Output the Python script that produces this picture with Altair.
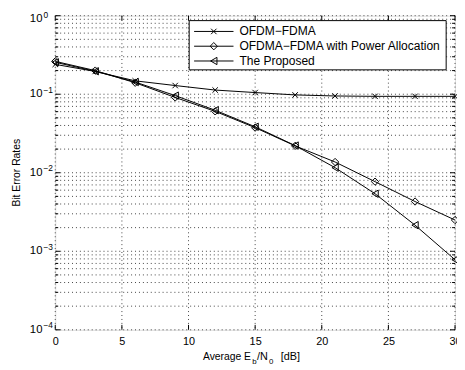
import altair as alt
import pandas as pd

# ---------------- data ----------------
snr_db = [0, 3, 6, 9, 12, 15, 18, 21, 24, 27, 30]
series_names = ["OFDM−FDMA", "OFDMA−FDMA with Power Allocation", "The Proposed"]
ber_ofdm_fdma = [0.24, 0.195, 0.148, 0.129, 0.113, 0.105, 0.098, 0.095, 0.094, 0.094, 0.094]
ber_power_alloc = [0.262, 0.200, 0.140, 0.091, 0.0605, 0.0375, 0.022, 0.0137, 0.0077, 0.0043, 0.0025]
ber_proposed = [0.255, 0.196, 0.143, 0.096, 0.0625, 0.0385, 0.0222, 0.0116, 0.0054, 0.00215, 0.00078]

x_tick_values = [0, 5, 10, 15, 20, 25, 30]
y_decades = [1.0, 0.1, 0.01, 0.001, 0.0001]
y_exponents = ["0", "−1", "−2", "−3", "−4"]
y_minor = [k * d for d in [0.1, 0.01, 0.001, 0.0001] for k in range(2, 10)]

rows = []
for name, vals in zip(series_names, [ber_ofdm_fdma, ber_power_alloc, ber_proposed]):
    for x, v in zip(snr_db, vals):
        rows.append({"snr": x, "ber": v, "series": name})
df = pd.DataFrame(rows)

W, H = 406, 319
FONT = "Liberation Sans"
xs = alt.Scale(domain=[0, 30], nice=False, zero=False)
ys = alt.Scale(type="log", domain=[1e-4, 1], nice=False)
x_marker = "M-0.75,-0.75L0.75,0.75M-0.75,0.75L0.75,-0.75"
shape_scale = alt.Scale(domain=series_names, range=[x_marker, "diamond", "triangle-left"])

# ---------------- grid / axes ----------------
grid_x = alt.Chart(pd.DataFrame({"v": x_tick_values})).mark_rule(
    color="#444", strokeWidth=1, strokeDash=[1, 3]
).encode(
    x=alt.X(
        "v:Q",
        scale=xs,
        axis=alt.Axis(
            values=x_tick_values,
            title=None,
            grid=False,
            ticks=False,
            domain=False,
            labelFlush=False,
            labelFont=FONT,
            labelFontSize=11,
            labelColor="#000",
            labelPadding=6,
        ),
    )
)

grid_y = alt.Chart(pd.DataFrame({"v": y_decades + y_minor})).mark_rule(
    color="#444", strokeWidth=1, strokeDash=[1, 3]
).encode(y=alt.Y("v:Q", scale=ys, axis=None))

ticks_bottom = alt.Chart(pd.DataFrame({"v": x_tick_values})).mark_rule(color="#000").encode(
    x=alt.X("v:Q", scale=xs), y=alt.value(H), y2=alt.value(H - 5)
)
ticks_top = alt.Chart(pd.DataFrame({"v": x_tick_values})).mark_rule(color="#000").encode(
    x=alt.X("v:Q", scale=xs), y=alt.value(0), y2=alt.value(5)
)
ticks_left_major = alt.Chart(pd.DataFrame({"v": y_decades})).mark_rule(color="#000").encode(
    y=alt.Y("v:Q", scale=ys), x=alt.value(0), x2=alt.value(5)
)
ticks_right_major = alt.Chart(pd.DataFrame({"v": y_decades})).mark_rule(color="#000").encode(
    y=alt.Y("v:Q", scale=ys), x=alt.value(W - 5), x2=alt.value(W)
)
ticks_left_minor = alt.Chart(pd.DataFrame({"v": y_minor})).mark_rule(color="#000").encode(
    y=alt.Y("v:Q", scale=ys), x=alt.value(0), x2=alt.value(3)
)
ticks_right_minor = alt.Chart(pd.DataFrame({"v": y_minor})).mark_rule(color="#000").encode(
    y=alt.Y("v:Q", scale=ys), x=alt.value(W - 3), x2=alt.value(W)
)

# y tick labels: 10^k, the top one nudged down as in the reference
ylab_top = pd.DataFrame({"v": y_decades[:1], "e": y_exponents[:1]})
ylab_rest = pd.DataFrame({"v": y_decades[1:], "e": y_exponents[1:]})


def ylabels(data, base_dy, exp_dy):
    base = alt.Chart(data).mark_text(
        text="10", align="right", baseline="middle", font=FONT, fontSize=11.5,
        color="#000", dy=base_dy
    ).encode(y=alt.Y("v:Q", scale=ys), x=alt.value(-13))
    exp = alt.Chart(data).mark_text(
        align="left", baseline="alphabetic", font=FONT, fontSize=8.5, color="#000", dy=exp_dy
    ).encode(y=alt.Y("v:Q", scale=ys), x=alt.value(-12), text="e:N")
    return [base, exp]


ylabel_layers = ylabels(ylab_top, 3, 2) + ylabels(ylab_rest, 0, -1.5)

y_title = alt.Chart(pd.DataFrame({"t": ["Bit Error Rates"]})).mark_text(
    angle=270, align="center", baseline="middle", font=FONT, fontSize=10.5, color="#000"
).encode(x=alt.value(-39), y=alt.value(H / 2), text="t:N")

xt_df = pd.DataFrame(
    {
        "t": ["Average E", "b", "/N", "0", "[dB]"],
        "px": [150, 200, 205, 217, 229],
        "py": [350, 354, 350, 354, 350],
        "fs": [10.5, 8, 11, 8, 11],
    }
)
x_title = alt.Chart(xt_df).mark_text(
    align="left", baseline="alphabetic", font=FONT, color="#000"
).encode(
    x=alt.X("px:Q", scale=None),
    y=alt.Y("py:Q", scale=None),
    text="t:N",
    size=alt.Size("fs:Q", scale=None, legend=None),
)

# ---------------- data marks ----------------
lines = alt.Chart(df).mark_line(color="#000", strokeWidth=1).encode(
    x=alt.X("snr:Q", scale=xs),
    y=alt.Y("ber:Q", scale=ys),
    detail="series:N",
)
points = alt.Chart(df).mark_point(filled=False, color="#000", strokeWidth=1, size=55, opacity=1).encode(
    x=alt.X("snr:Q", scale=xs),
    y=alt.Y("ber:Q", scale=ys),
    shape=alt.Shape("series:N", scale=shape_scale, legend=None),
)

# ---------------- legend ----------------
leg_df = pd.DataFrame({"series": series_names, "py": [16, 31, 46]})
leg_box = alt.Chart(pd.DataFrame({"a": [0]})).mark_rect(
    fill="#fff", stroke="#000", strokeWidth=1
).encode(x=alt.value(136), x2=alt.value(397), y=alt.value(5), y2=alt.value(55))
leg_lines = alt.Chart(leg_df).mark_rule(color="#000", strokeWidth=1).encode(
    x=alt.value(141), x2=alt.value(181), y=alt.Y("py:Q", scale=None)
)
leg_points = alt.Chart(leg_df).mark_point(filled=False, color="#000", strokeWidth=1, size=55, opacity=1).encode(
    x=alt.value(161),
    y=alt.Y("py:Q", scale=None),
    shape=alt.Shape("series:N", scale=shape_scale, legend=None),
)
leg_text = alt.Chart(leg_df).mark_text(
    align="left", baseline="middle", font=FONT, fontSize=12.2, color="#000"
).encode(x=alt.value(187), y=alt.Y("py:Q", scale=None), text="series:N")

chart = (
    alt.layer(
        grid_x, grid_y,
        ticks_bottom, ticks_top, ticks_left_major, ticks_right_major,
        ticks_left_minor, ticks_right_minor,
        lines, points,
        leg_box, leg_lines, leg_points, leg_text,
        *ylabel_layers, y_title, x_title,
    )
    .properties(
        width=W,
        height=H,
        autosize=alt.AutoSizeParams(type="none"),
        padding={"left": 48, "top": 5, "right": 2, "bottom": 37},
    )
    .configure_view(stroke="#000", strokeWidth=1)
    .configure(background="#fff")
)

chart.save("out.html", embed_options={"renderer": "svg", "actions": False})
